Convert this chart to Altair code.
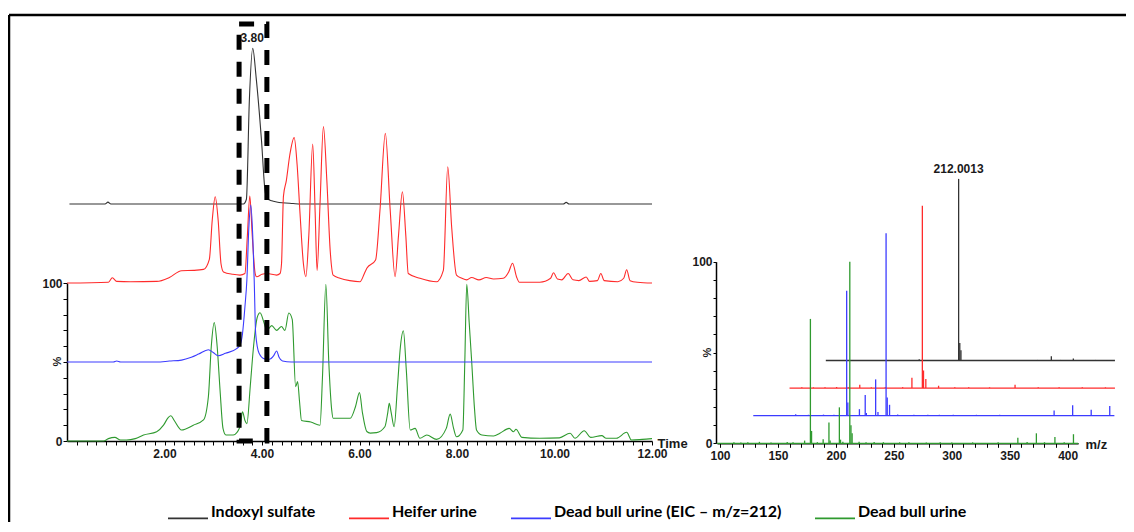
import altair as alt
import pandas as pd

# ---------------- data ----------------
SERIES = ["Indoxyl sulfate", "Heifer urine", "Dead bull urine (EIC \u2013 m/z=212)", "Dead bull urine"]
COLORS = ["#333333", "#ff2b2b", "#3c3cff", "#2f9a2f"]

# Chromatograms: retention time (min) / relative intensity (%)
IS_T = [0.05, 0.78, 0.84, 0.90, 3.62, 3.68, 3.74, 3.81, 3.88, 3.99, 4.06, 4.10, 4.20, 4.30, 4.64, 4.80, 10.18, 10.24, 10.30, 12.0]
IS_I = [0, 0, 1.2, 0, 0, 3, 65, 98.5, 80, 40, 9, 3.5, 2, 1.3, 0.3, 0, 0, 1, 0, 0]

HU_T = [0, 0.85, 0.93, 1.02, 1.3, 1.84, 2.1, 2.35, 2.6, 2.80, 2.92, 2.98, 3.04, 3.10, 3.16, 3.21, 3.40, 3.55,
        3.65, 3.70, 3.75, 3.80, 3.86, 3.89, 4.0, 4.10, 4.30, 4.37, 4.40, 4.44, 4.50, 4.57, 4.66, 4.72, 4.78,
        4.85, 4.90, 4.96, 5.04, 5.09, 5.13, 5.19, 5.26, 5.33, 5.40, 5.46, 5.6, 5.8, 6.01, 6.10, 6.15, 6.33,
        6.42, 6.53, 6.63, 6.73, 6.80, 6.88, 6.95, 7.0, 7.24, 7.58, 7.72, 7.81, 7.89, 7.99, 8.10, 8.20, 8.30,
        8.45, 8.60, 8.75, 8.95, 9.06, 9.14, 9.22, 9.28, 9.7, 9.92, 9.98, 10.06, 10.15, 10.28, 10.38, 10.5,
        10.65, 10.72, 10.88, 10.95, 11.02, 11.3, 11.42, 11.48, 11.55, 11.7, 12.0]
HU_I = [0, 0.5, 3.3, 1, 0.8, 1, 3.5, 7.8, 8, 8.6, 15, 40, 54.6, 40, 12, 7, 5.5, 5,
        6, 30, 55, 30, 6, 4, 5.5, 6, 5, 6, 12, 55, 65, 81, 92, 75, 44,
        12, 4, 30, 88, 45, 8, 50, 99, 65, 20, 5, 3, 1.5, 0.8, 6, 9.3, 14.6,
        46, 94.7, 46, 4, 30, 57.8, 30, 6, 3, 0.8, 8, 73.6, 35.6, 5, 3, 2, 3.5,
        2, 3.5, 2.5, 3, 7, 12.5, 4, 0.5, 0.5, 3, 6.5, 2.5, 2, 6, 2, 1.5,
        3.8, 1, 1.5, 6, 1.5, 0.8, 3, 8.4, 1.5, 0.5, 0]

EIC_T = [0, 0.95, 1.02, 1.1, 1.84, 2.1, 2.35, 2.55, 2.70, 2.90, 3.0, 3.10, 3.25, 3.48, 3.55, 3.60, 3.65,
         3.69, 3.73, 3.77, 3.81, 3.84, 3.87, 3.94, 4.05, 4.15, 4.24, 4.30, 4.35, 4.42, 4.6, 12.0]
EIC_I = [0, 0, 0.6, 0, 0, 0.6, 1.2, 3, 5, 7.8, 6, 4, 5.5, 8.5, 10.8, 18, 35,
         52, 85, 99.4, 80, 52, 18, 5.5, 2, 1.7, 4, 7, 3, 0.6, 0, 0]

DB_T = [0, 0.75, 0.85, 0.98, 1.1, 1.22, 1.4, 1.57, 1.84, 1.98, 2.08, 2.13, 2.20, 2.35, 2.59, 2.80, 2.90,
        2.96, 3.02, 3.08, 3.14, 3.20, 3.26, 3.41, 3.55, 3.60, 3.65, 3.69, 3.76, 3.82, 3.90, 3.96, 4.04,
        4.10, 4.20, 4.30, 4.40, 4.47, 4.55, 4.62, 4.69, 4.73, 4.77, 4.81, 5.0, 5.19, 5.24, 5.31, 5.37,
        5.43, 5.46, 5.81, 5.92, 6.0, 6.06, 6.15, 6.22, 6.35, 6.52, 6.58, 6.61, 6.65, 6.71, 6.78, 6.84,
        6.90, 6.96, 7.04, 7.14, 7.24, 7.38, 7.58, 7.78, 7.86, 7.93, 7.99, 8.12, 8.16, 8.20, 8.25, 8.30,
        8.36, 8.40, 8.51, 8.75, 8.88, 9.07, 9.16, 9.21, 9.33, 9.70, 10.1, 10.32, 10.42, 10.61, 10.74,
        10.97, 11.06, 11.27, 11.48, 11.58, 11.8, 12.0]
DB_I = [0, 0, 1.5, 2.3, 0.6, 0.6, 1.5, 3.8, 5.9, 10, 15, 16, 13, 7, 10, 13.3, 28,
        60, 74.9, 60, 32, 8, 3.8, 3.8, 9, 18.5, 13, 11, 35, 57.6, 78, 81.2, 75,
        70, 73, 70, 72.5, 70, 81, 77, 34.4, 37.6, 25, 13, 12, 10, 40, 99.2, 50,
        19.6, 14.4, 14.4, 22, 30.6, 18, 6, 5, 5.3, 9, 18, 23.8, 18, 9, 35, 60,
        69.8, 45, 7, 8, 1.7, 3.8, 1, 8, 17, 8, 2.7, 7, 50, 99.2, 75, 51,
        20, 7, 3.8, 3.2, 4.9, 8, 5.9, 7.4, 2.3, 1.7, 2, 4.9, 1.7, 6.5, 2.3,
        3.4, 1.7, 1.7, 5.5, 0.6, 1, 1.5]

CHROM_T = [IS_T, HU_T, EIC_T, DB_T]
CHROM_I = [IS_I, HU_I, EIC_I, DB_I]

APEX_LABEL = "3.80"
APEX_T = 3.80
BOX_T = [3.53, 4.10]
BOX_TOP = 264

# Mass spectra: m/z / relative abundance (%)
IS_MZ = [120, 150, 178, 212, 213, 214, 240, 260, 280, 292, 300, 311, 330, 340]
IS_AB = [0.3, 0.3, 0.7, 100, 9.7, 5.7, 0.3, 0.3, 0.3, 2.4, 0.3, 1.1, 0.3, 0.3]

HU_MZ = [108, 118, 128, 138, 148, 158, 168, 180, 195, 203, 212, 213, 215, 226, 240, 252, 270, 292, 312, 330, 350, 370]
HU_AB = [0.4, 0.4, 0.4, 0.6, 0.4, 1.8, 0.4, 0.4, 0.5, 5.7, 100.4, 9.7, 5, 1.3, 0.5, 0.5, 0.4, 1.8, 0.5, 0.4, 0.4, 0.4]

EIC_MZ = [107, 115, 127, 134, 145, 158, 167, 178, 179, 189, 194, 195, 203, 205, 212, 213, 215, 222, 236, 248,
          258, 270, 290, 310, 357, 373, 389, 405]
EIC_AB = [0.4, 0.4, 0.4, 0.8, 0.5, 0.6, 0.5, 68.8, 7.2, 3.6, 11.4, 1.5, 20, 2, 100.5, 10, 6, 0.6, 0.5, 0.5,
          0.5, 0.5, 0.5, 0.5, 2.9, 5.7, 3.3, 5.3]

DB_MZ = [112, 118, 124, 134, 144, 158, 163, 173, 178, 179, 184, 189, 194, 195, 203, 204, 206, 212, 213, 214,
         220, 226, 233, 241, 255, 263, 278, 290, 300, 318, 340, 357, 365, 373, 380, 389, 397, 405]
DB_AB = [0.6, 0.5, 0.6, 0.8, 0.5, 0.7, 0.6, 1.5, 68.5, 6.8, 0.6, 2.2, 11.4, 1.5, 19.8, 2.0, 0.8, 100, 10, 5.5,
         0.8, 0.6, 0.7, 0.6, 0.5, 0.6, 0.5, 0.6, 0.5, 0.5, 0.6, 3.0, 0.7, 5.5, 0.6, 3.5, 0.6, 5.0]

SPEC_MZ = [IS_MZ, HU_MZ, EIC_MZ, DB_MZ]
SPEC_AB = [IS_AB, HU_AB, EIC_AB, DB_AB]
PEAK_LABEL = "212.0013"
PEAK_MZ = 212

# ---------------- layout / style constants ----------------
W, H = 1118, 514
FONT = "Liberation Sans, Arial, sans-serif"
LEG_FONT = "Lato, Open Sans, sans-serif"
CHROM_OFFSET = [150, 100, 50, 0]        # vertical stacking of chromatograms
SPEC_LEVEL = [3, 2, 1, 0]               # waterfall depth of spectra
SHIFT_MZ, SHIFT_Y = 31.3, 15.2
MZ_START, MZ_END, MZ_CLIP = 97.4, 409, 440.8

# ---------------- tables ----------------
chrom_rows = []
for order_i, si in enumerate([0, 3, 1, 2]):
    for t, v in zip(CHROM_T[si], CHROM_I[si]):
        chrom_rows.append({"series": SERIES[si], "time": t, "value": v + CHROM_OFFSET[si], "k": order_i})
chrom_df = pd.DataFrame(chrom_rows)

box_df = pd.DataFrame({"time": [BOX_T[0]], "t1": [BOX_T[1]], "value": [0], "v1": [BOX_TOP]})
apex_df = pd.DataFrame({"time": [APEX_T], "value": [max(IS_I) + CHROM_OFFSET[0]], "label": [APEX_LABEL]})

stick_rows, base_rows = [], []
for si in range(4):
    lvl = SPEC_LEVEL[si]
    dx, dy = lvl * SHIFT_MZ, lvl * SHIFT_Y
    base_rows.append({"series": SERIES[si], "mz": MZ_START + dx, "x1": min(MZ_END + dx, MZ_CLIP), "ab": dy})
    for mz, ab in zip(SPEC_MZ[si], SPEC_AB[si]):
        if mz + dx <= MZ_CLIP:
            stick_rows.append({"series": SERIES[si], "mz": mz + dx, "ab": dy, "y1": dy + ab})
stick_df = pd.DataFrame(stick_rows)
base_df = pd.DataFrame(base_rows)
peak_df = pd.DataFrame({"mz": [PEAK_MZ + SPEC_LEVEL[0] * SHIFT_MZ],
                        "ab": [max(IS_AB) + SPEC_LEVEL[0] * SHIFT_Y], "label": [PEAK_LABEL]})

# ---------------- scales / axes ----------------
SX_L = alt.Scale(domain=[0, 12], range=[59, 644], nice=False, zero=False)
SY_L = alt.Scale(domain=[0, 100], range=[433, 275], nice=False, zero=False)
SX_R = alt.Scale(domain=[MZ_START, MZ_END], range=[709, 1070.1], nice=False, zero=False)
SY_R = alt.Scale(domain=[0, 100], range=[435.3, 253.7], nice=False, zero=False)

common_axis = dict(grid=False, domainColor="black", domainWidth=1.5, tickColor="black",
                   labelFont=FONT, labelFontWeight="bold", labelColor="#1a1a1a", labelOverlap=False,
                   labelFlush=False, titleFont=FONT, titleFontWeight="bold", titleColor="#1a1a1a")

AX_L = alt.Axis(orient="bottom", offset=-(H - 433), values=[round(0.2 * i, 1) for i in range(1, 61)],
                labelExpr="round(datum.value*10) % 20 == 0 ? format(datum.value, '.2f') : ''",
                tickSize=4, labelFontSize=12, labelPadding=3, title="Time", titleX=649, titleY=2,
                titleAlign="left", titleBaseline="middle", titleAngle=0, titleFontSize=13, **common_axis)
AY_L = alt.Axis(orient="left", offset=-59, values=list(range(0, 101, 10)),
                labelExpr="datum.value == 0 || datum.value == 100 ? datum.label : ''",
                tickSize=4, labelFontSize=12, labelPadding=1, title="%", titleX=-10, titleY=353,
                titleAngle=270, titleAlign="center", titleBaseline="middle", titleFontSize=11, **common_axis)
AX_R = alt.Axis(orient="bottom", offset=-(H - 435.3), values=list(range(100, 401, 10)),
                labelExpr="datum.value % 50 == 0 ? datum.label : ''",
                tickSize=4, labelFontSize=12, labelPadding=3, title="m/z", titleX=1077, titleY=1,
                titleAlign="left", titleBaseline="middle", titleAngle=0, titleFontSize=13, **common_axis)
AY_R = alt.Axis(orient="left", offset=-708, values=list(range(0, 101, 10)),
                labelExpr="datum.value == 0 || datum.value == 100 ? datum.label : ''",
                tickSize=3, labelFontSize=12, labelPadding=1, title="%", titleX=-9, titleY=344,
                titleAngle=270, titleAlign="center", titleBaseline="middle", titleFontSize=11, **common_axis)

legend = alt.Legend(orient="none", legendX=159, legendY=483, direction="horizontal",
                    symbolType="M-1,0.3H1", symbolSize=1600, symbolStrokeWidth=1.6,
                    symbolFillColor="transparent", labelFont=LEG_FONT, labelFontSize=16,
                    labelFontWeight="bold", labelColor="black", labelOffset=2, columnPadding=29,
                    labelLimit=400)
color = alt.Color("series:N", scale=alt.Scale(domain=SERIES, range=COLORS), title=None, legend=legend)

XL = alt.X("time:Q", scale=SX_L, axis=AX_L, title="Time")
YL = alt.Y("value:Q", scale=SY_L, axis=AY_L, title="%")
XR = alt.X("mz:Q", scale=SX_R, axis=AX_R, title="m/z")
YR = alt.Y("ab:Q", scale=SY_R, axis=AY_R, title="%")

# ---------------- left panel: chromatograms ----------------
lines = alt.Chart(chrom_df).mark_line(strokeWidth=1.1, interpolate="monotone").encode(
    x=XL, y=YL, color=color, order="time:Q",
)
box = alt.Chart(box_df).mark_rect(filled=False, stroke="black", strokeWidth=5, strokeDash=[15, 12]).encode(
    x=XL, x2="t1:Q", y=YL, y2="v1:Q",
)
apex = alt.Chart(apex_df).mark_text(font=FONT, fontSize=12, fontWeight="bold", color="#1a1a1a",
                                    baseline="bottom", dy=-3).encode(x=XL, y=YL, text="label:N")
left = alt.layer(lines, box, apex)

# ---------------- right panel: spectra ----------------
bases = alt.Chart(base_df).mark_rule(strokeWidth=1.3).encode(x=XR, x2="x1:Q", y=YR, color=color)
sticks = alt.Chart(stick_df).mark_rule(strokeWidth=1.3).encode(x=XR, y=YR, y2="y1:Q", color=color)
plabel = alt.Chart(peak_df).mark_text(font=FONT, fontSize=12, fontWeight="bold", color="#1a1a1a",
                                      baseline="bottom", dy=-3).encode(x=XR, y=YR, text="label:N")
right = alt.layer(bases, sticks, plabel)

# ---------------- frame ----------------
one = pd.DataFrame({"a": [0]})
frame_top = alt.Chart(one).mark_rule(color="black", strokeWidth=2.5).encode(
    x=alt.value(1), x2=alt.value(W), y=alt.value(7))
frame_left = alt.Chart(one).mark_rule(color="black", strokeWidth=2.5).encode(
    x=alt.value(1), y=alt.value(7), y2=alt.value(H))

chart = alt.layer(frame_top, frame_left, left, right).resolve_scale(
    x="independent", y="independent"
).properties(
    width=W, height=H, padding=0, autosize=alt.AutoSizeParams(type="none")
).configure_view(strokeWidth=0)

chart.save("out.html", embed_options={"renderer": "svg", "actions": False})
